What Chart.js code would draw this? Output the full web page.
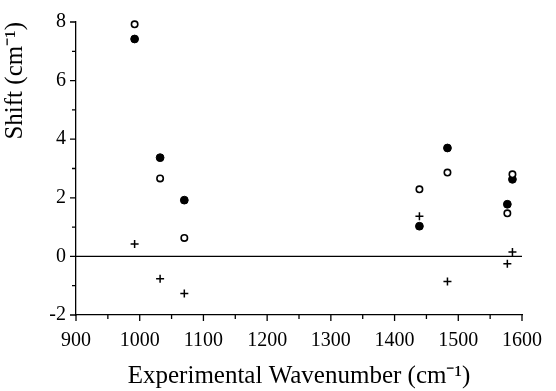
<!DOCTYPE html>
<html>
<head>
<meta charset="utf-8">
<script src="https://cdn.jsdelivr.net/npm/chart.js@4"></script>
<style>
  html, body { margin: 0; padding: 0; background: #fff; }
  #wrap { width: 556px; height: 391px; }
</style>
</head>
<body>
<div id="wrap"><canvas id="shiftChart" width="556" height="391"></canvas></div>
<script>
const wavenumbers = [992, 1032, 1070, 1439, 1483, 1577, 1585];
const filledShift = [7.42, 3.37, 1.92, 1.03, 3.70, 1.78, 2.63];
const openShift = [7.92, 2.66, 0.63, 2.29, 2.86, 1.47, 2.80];
const plusShift = [0.42, -0.76, -1.27, 1.37, -0.86, -0.25, 0.15];

const xTicks = [900, 1000, 1100, 1200, 1300, 1400, 1500, 1600];
const yTicks = [-2, 0, 2, 4, 6, 8];

function points(values) {
    return wavenumbers.map((w, i) => ({ x: w, y: values[i] }));
}

const serif = "'Liberation Serif', 'Times New Roman', serif";

// axis ticks (major + minor, outward) and the zero line
const axisMarks = {
    id: "axisMarks",
    beforeDatasetsDraw(chart) {
        const ctx = chart.ctx;
        const xs = chart.scales.x;
        const ys = chart.scales.y;
        const area = chart.chartArea;
        ctx.save();
        ctx.strokeStyle = "#000";
        ctx.lineWidth = 1.3;
        ctx.beginPath();
        const y0 = ys.getPixelForValue(0);
        ctx.moveTo(area.left, y0);
        ctx.lineTo(area.right, y0);
        const xStep = xTicks[1] - xTicks[0];
        for (let v = xTicks[0]; v <= xTicks[xTicks.length - 1]; v += xStep / 2) {
            const px = xs.getPixelForValue(v);
            const len = (v - xTicks[0]) % xStep === 0 ? 6 : 4;
            ctx.moveTo(px, area.bottom);
            ctx.lineTo(px, area.bottom + len);
        }
        const yStep = yTicks[1] - yTicks[0];
        for (let v = yTicks[0]; v <= yTicks[yTicks.length - 1]; v += yStep / 2) {
            const py = ys.getPixelForValue(v);
            const len = (v - yTicks[0]) % yStep === 0 ? 6 : 4;
            ctx.moveTo(area.left - len, py);
            ctx.lineTo(area.left, py);
        }
        ctx.stroke();
        ctx.restore();
    }
};

new Chart(document.getElementById("shiftChart"), {
    type: "scatter",
    data: {
        datasets: [
            {
                label: "plus",
                data: points(plusShift),
                pointStyle: "cross",
                radius: 4,
                borderWidth: 1.5,
                borderColor: "#000",
                backgroundColor: "#000",
                clip: false
            },
            {
                label: "open",
                data: points(openShift),
                pointStyle: "circle",
                radius: 3.2,
                borderWidth: 1.6,
                borderColor: "#000",
                backgroundColor: "#fff",
                clip: false
            },
            {
                label: "filled",
                data: points(filledShift),
                pointStyle: "circle",
                radius: 3.9,
                borderWidth: 1,
                borderColor: "#000",
                backgroundColor: "#000",
                clip: false
            }
        ]
    },
    options: {
        responsive: false,
        animation: false,
        events: [],
        layout: { padding: { top: 20, right: 19, bottom: 0, left: 0 } },
        plugins: {
            legend: { display: false },
            tooltip: { enabled: false }
        },
        scales: {
            x: {
                type: "linear",
                min: xTicks[0],
                max: xTicks[xTicks.length - 1],
                afterBuildTicks: s => { s.ticks = xTicks.map(v => ({ value: v })); },
                afterFit: s => { s.height = 76; },
                grid: { display: false, drawTicks: false },
                border: { display: true, color: "#000", width: 1.3 },
                ticks: {
                    color: "#000",
                    padding: 14,
                    maxRotation: 0,
                    autoSkip: false,
                    callback: v => String(v),
                    font: { family: serif, size: 20 }
                },
                title: {
                    display: true,
                    text: "Experimental Wavenumber (cm\u207B\u00B9)",
                    color: "#000",
                    font: { family: serif, size: 25 },
                    padding: { top: 4, bottom: 0 }
                }
            },
            y: {
                type: "linear",
                min: yTicks[0],
                max: yTicks[yTicks.length - 1],
                afterBuildTicks: s => { s.ticks = yTicks.map(v => ({ value: v })); },
                afterFit: s => { s.width = 76; },
                grid: { display: false, drawTicks: false },
                border: { display: true, color: "#000", width: 1.3 },
                ticks: {
                    color: "#000",
                    padding: 10,
                    callback: v => String(v),
                    font: { family: serif, size: 20 }
                },
                title: {
                    display: true,
                    align: "end",
                    text: "Shift (cm\u207B\u00B9)",
                    color: "#000",
                    font: { family: serif, size: 25 },
                    padding: { top: 0, bottom: 6 }
                }
            }
        }
    },
    plugins: [axisMarks]
});
</script>
</body>
</html>
